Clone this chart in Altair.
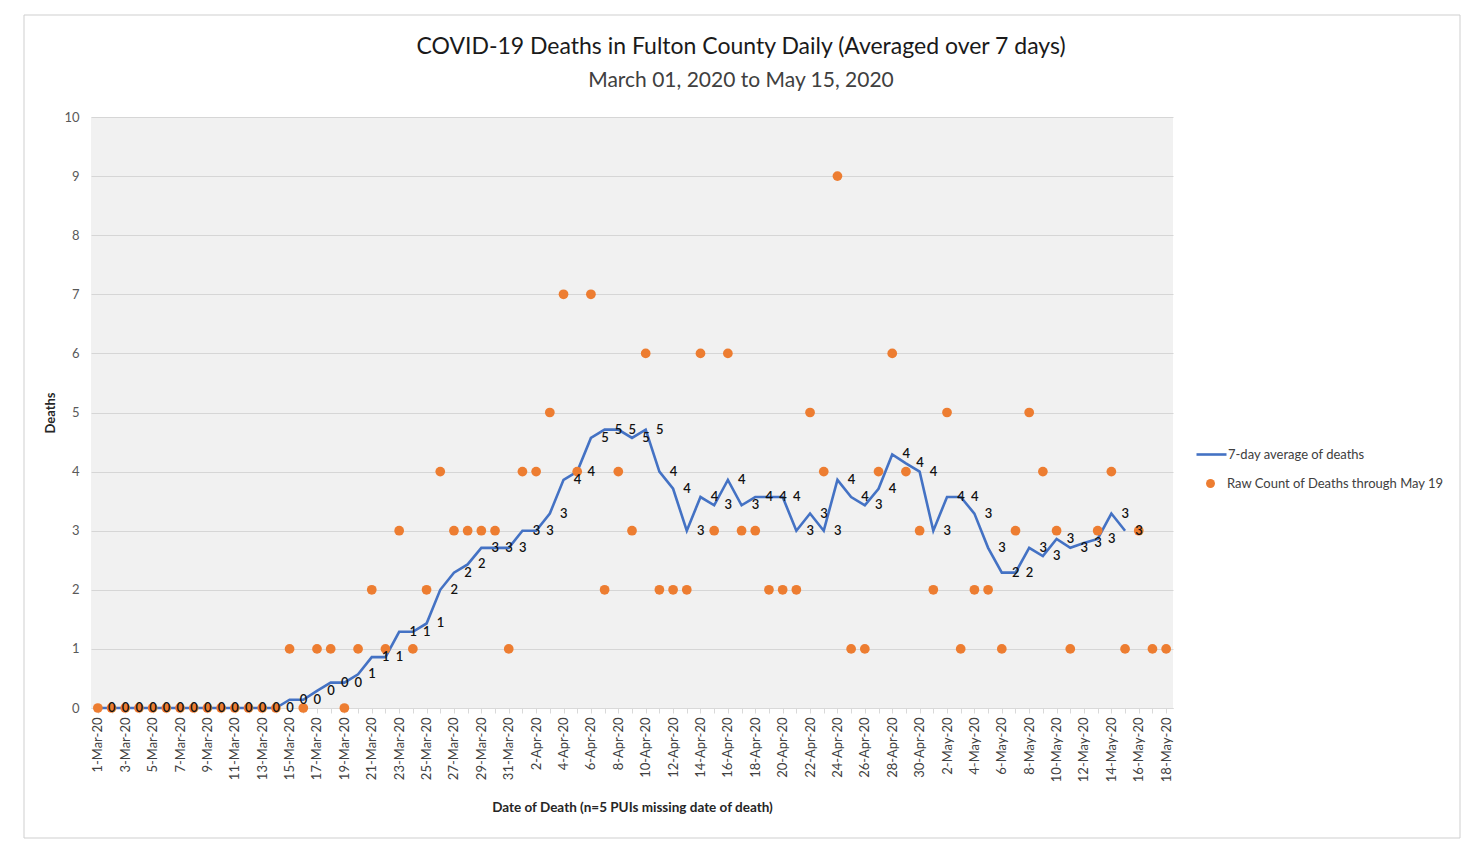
import altair as alt
import pandas as pd

# category labels (one per day, 1-Mar-20 .. 18-May-20)
dates = [f"{d.day}-{d.strftime('%b')}-20" for d in pd.date_range("2020-03-01", "2020-05-18")]
labeled = dates[::2]

raw_counts = [0] * 14 + [
    1, 0, 1, 1, 0, 1, 2, 1, 3, 1,
    2, 4, 3, 3, 3, 3, 1, 4, 4, 5,
    7, 4, 7, 2, 4, 3, 6, 2, 2, 2,
    6, 3, 6, 3, 3, 2, 2, 2, 5, 4,
    9, 1, 1, 4, 6, 4, 3, 2, 5, 1,
    2, 2, 1, 3, 5, 4, 3, 1, None, 3,
    4, 1, 3, 1, 1,
]

avg7 = [0] * 14 + [
    0.14, 0.14, 0.29, 0.43, 0.43, 0.57, 0.86, 0.86, 1.29, 1.29,
    1.43, 2.00, 2.29, 2.43, 2.71, 2.71, 2.71, 3.00, 3.00, 3.29,
    3.86, 4.00, 4.57, 4.71, 4.71, 4.57, 4.71, 4.00, 3.71, 3.00,
    3.57, 3.43, 3.86, 3.43, 3.57, 3.57, 3.57, 3.00, 3.29, 3.00,
    3.86, 3.57, 3.43, 3.71, 4.29, 4.14, 4.00, 3.00, 3.57, 3.57,
    3.29, 2.71, 2.29, 2.29, 2.71, 2.57, 2.86, 2.71, 2.79, 2.86,
    3.29, 3.00,
]

TITLE = "COVID-19 Deaths in Fulton County Daily (Averaged over 7 days)"
SUBTITLE = "March 01, 2020 to May 15, 2020"
LINE_NAME = "7-day average of deaths"
DOT_NAME = "Raw Count of Deaths through May 19"
BLUE = "#4472C4"
ORANGE = "#ED7D31"
FONT = "Lato"

raw_df = pd.DataFrame({"date": dates, "raw": raw_counts, "series": DOT_NAME}).dropna()
avg_df = pd.DataFrame({"date": dates[: len(avg7)], "avg": avg7, "series": LINE_NAME})

label_list = "[" + ",".join(f"'{d}'" for d in labeled) + "]"

x_enc = alt.X(
    "date:N",
    sort=dates,
    scale=alt.Scale(type="point", padding=0.5, domain=dates),
    axis=alt.Axis(
        title="Date of Death (n=5 PUIs missing date of death)",
        labelAngle=-90,
        labelExpr=f"indexof({label_list}, datum.value) >= 0 ? datum.label : ''",
        labelFont=FONT, labelFontSize=13, labelColor="#404040", labelPadding=4,
        titleFont=FONT, titleFontSize=13.5, titleFontWeight="bold", titleColor="#262626",
        titlePadding=19,
        domainColor="#d9d9d9", tickColor="#d9d9d9", tickSize=5,
        grid=False,
    ),
)

y_scale = alt.Scale(domain=[0, 10], nice=False)
y_axis = alt.Axis(
    title="Deaths", values=list(range(11)), format="d",
    labelFont=FONT, labelFontSize=13, labelColor="#595959", labelPadding=12,
    titleFont=FONT, titleFontSize=13, titleFontWeight="bold", titleColor="#262626",
    titlePadding=6,
    domain=False, ticks=False, tickSize=0,
    gridColor="#d6d6d6", gridWidth=1,
)

line = alt.Chart(avg_df).mark_line(strokeWidth=2.6, color=BLUE).encode(
    x=x_enc,
    y=alt.Y("avg:Q", scale=y_scale, axis=y_axis),
    color=alt.Color(
        "series:N",
        scale=alt.Scale(domain=[LINE_NAME], range=[BLUE]),
        legend=alt.Legend(
            title=None, orient="none", legendX=1104, legendY=321,
            symbolType="stroke", symbolSize=900, symbolStrokeWidth=2.6,
            labelFont=FONT, labelFontSize=13, labelColor="#404040",
            labelOffset=0, padding=0, labelLimit=400,
        ),
    ),
)

dots = alt.Chart(raw_df).mark_point(filled=True, size=95, opacity=1, shape="circle").encode(
    x=alt.X("date:N", sort=dates),
    y=alt.Y("raw:Q"),
    color=alt.Color(
        "series:N",
        scale=alt.Scale(domain=[DOT_NAME], range=[ORANGE]),
        legend=alt.Legend(
            title=None, orient="none", legendX=1113, legendY=360,
            symbolType="circle", symbolSize=80,
            labelFont=FONT, labelFontSize=13, labelColor="#404040",
            labelOffset=10, padding=0, labelLimit=400,
        ),
    ),
)

labels = alt.Chart(avg_df).mark_text(
    dx=14, align="center", baseline="middle", font=FONT, fontSize=13,
    fontWeight=600, color="#111111"
).encode(
    x=alt.X("date:N", sort=dates),
    y=alt.Y("avg:Q"),
    text=alt.Text("avg:Q", format=".0f"),
)

one = pd.DataFrame({"a": [0]})

frame = alt.Chart(one).mark_rect(
    fillOpacity=0, stroke="#cfcfcf", strokeWidth=1
).encode(
    x=alt.value(-67), x2=alt.value(1369), y=alt.value(-102), y2=alt.value(721)
)

title_txt = alt.Chart(one).mark_text(
    font=FONT, fontSize=23, color="#1a1a1a", align="center", baseline="middle"
).encode(x=alt.value(650), y=alt.value(-70), text=alt.value(TITLE))

subtitle_txt = alt.Chart(one).mark_text(
    font=FONT, fontSize=21, color="#404040", align="center", baseline="middle"
).encode(x=alt.value(650), y=alt.value(-36), text=alt.value(SUBTITLE))

chart = (
    alt.layer(frame, line, dots, labels, title_txt, subtitle_txt)
    .resolve_scale(color="independent")
    .properties(
        width=1082,
        height=591,
        autosize=alt.AutoSizeParams(type="none"),
        padding={"left": 83, "top": 109, "right": 300, "bottom": 138},
        background="white",
    )
    .configure_view(fill="#f1f1f1", stroke=None)
)

chart.save("out.html", embed_options={"renderer": "svg", "actions": False})
